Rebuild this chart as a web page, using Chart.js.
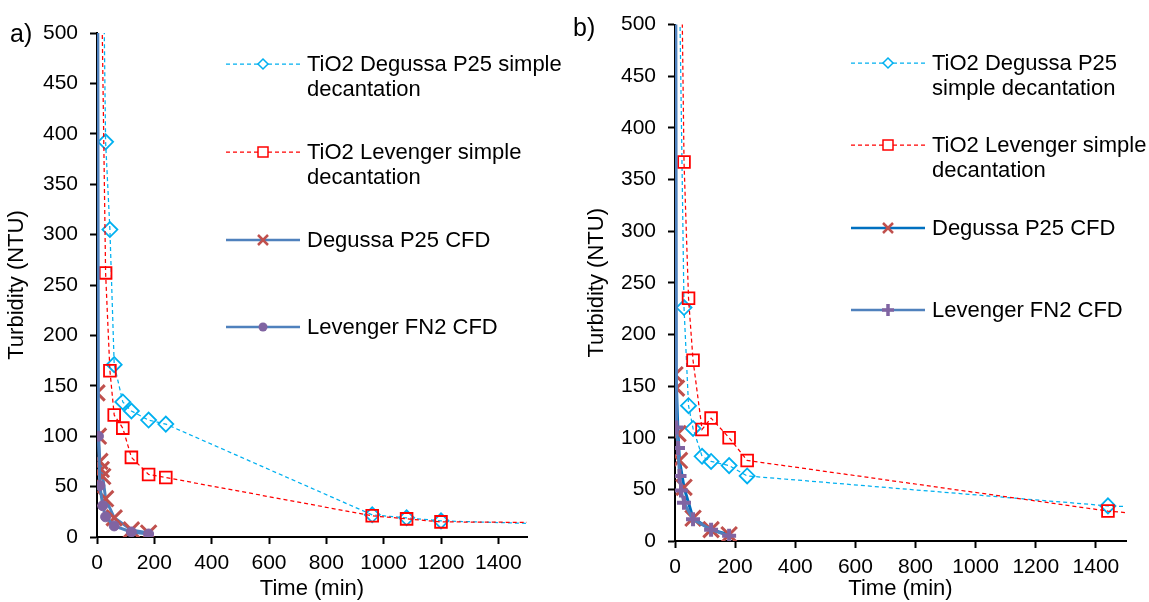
<!DOCTYPE html>
<html>
<head>
<meta charset="utf-8">
<title>Turbidity vs time</title>
<script src="https://cdn.jsdelivr.net/npm/chart.js@4.4.1/dist/chart.umd.min.js"></script>
<style>
  body { margin: 0; background: #fff; font-family: 'Liberation Sans', Arial, sans-serif; color: #000; }
  #wrap { position: relative; width: 1149px; height: 602px; overflow: hidden; }
  canvas { position: absolute; top: 0; }
  .panel { position: absolute; font-size: 25px; }
  .leg { position: absolute; font-size: 22px; line-height: 25px; white-space: nowrap; }
  .sample { position: absolute; }
</style>
</head>
<body>
<div id="wrap">
  <canvas id="chartA" width="560" height="602" style="left:0"></canvas>
  <canvas id="chartB" width="589" height="602" style="left:560px"></canvas>

  <div class="panel" style="left:10px;top:19px">a)</div>
  <div class="panel" style="left:573px;top:13px">b)</div>

  <!-- legend a -->
  <svg class="sample" style="left:226px;top:54px" width="74" height="20"><line x1="0" y1="10" x2="74" y2="10" stroke="#00b0f0" stroke-width="1.25" stroke-dasharray="4 3"/><polygon points="37,5 42,10 37,15 32,10" fill="#fff" stroke="#00b0f0" stroke-width="1.5"/></svg>
  <div class="leg" style="left:307px;top:51px">TiO2 Degussa P25 simple<br>decantation</div>
  <svg class="sample" style="left:226px;top:142px" width="74" height="20"><line x1="0" y1="10" x2="74" y2="10" stroke="#ff0000" stroke-width="1.25" stroke-dasharray="4 3"/><rect x="32" y="5" width="10" height="10" fill="#fff" stroke="#ff0000" stroke-width="1.5"/></svg>
  <div class="leg" style="left:307px;top:139px">TiO2 Levenger simple<br>decantation</div>
  <svg class="sample" style="left:226px;top:230px" width="74" height="20"><line x1="0" y1="10" x2="74" y2="10" stroke="#4f81bd" stroke-width="2.5"/><path d="M32,5 L42,15 M42,5 L32,15" stroke="#c0504d" stroke-width="2.5"/></svg>
  <div class="leg" style="left:307px;top:227px">Degussa P25 CFD</div>
  <svg class="sample" style="left:226px;top:317px" width="74" height="20"><line x1="0" y1="10" x2="74" y2="10" stroke="#4f81bd" stroke-width="2.5"/><circle cx="37" cy="10" r="4.5" fill="#8064a2"/></svg>
  <div class="leg" style="left:307px;top:314px">Levenger FN2 CFD</div>

  <!-- legend b -->
  <svg class="sample" style="left:851px;top:53px" width="74" height="20"><line x1="0" y1="10" x2="74" y2="10" stroke="#00b0f0" stroke-width="1.25" stroke-dasharray="4 3"/><polygon points="37,5 42,10 37,15 32,10" fill="#fff" stroke="#00b0f0" stroke-width="1.5"/></svg>
  <div class="leg" style="left:932px;top:50px">TiO2 Degussa P25<br>simple decantation</div>
  <svg class="sample" style="left:851px;top:135px" width="74" height="20"><line x1="0" y1="10" x2="74" y2="10" stroke="#ff0000" stroke-width="1.25" stroke-dasharray="4 3"/><rect x="32" y="5" width="10" height="10" fill="#fff" stroke="#ff0000" stroke-width="1.5"/></svg>
  <div class="leg" style="left:932px;top:132px">TiO2 Levenger simple<br>decantation</div>
  <svg class="sample" style="left:851px;top:218px" width="74" height="20"><line x1="0" y1="10" x2="74" y2="10" stroke="#0070c0" stroke-width="2.5"/><path d="M32,5 L42,15 M42,5 L32,15" stroke="#c0504d" stroke-width="2.5"/></svg>
  <div class="leg" style="left:932px;top:215px">Degussa P25 CFD</div>
  <svg class="sample" style="left:851px;top:300px" width="74" height="20"><line x1="0" y1="10" x2="74" y2="10" stroke="#4f81bd" stroke-width="2.5"/><path d="M37,4 L37,16 M31,10 L43,10" stroke="#8064a2" stroke-width="3.5"/></svg>
  <div class="leg" style="left:932px;top:297px">Levenger FN2 CFD</div>
</div>

<script>
// --- panel a) data ---
const timeDecantA = [0, 30, 45, 60, 90, 120, 180, 240, 960, 1080, 1200, 1800];
const degussaDecantA = [1100, 392, 305, 171, 134, 125, 116, 112, 22, 19, 16, 11];
const levengerDecantA = [880, 262, 165, 121, 108, 79, 62, 59, 21, 18, 15, 14];
const timeDegussaCfdA = [0, 5, 10, 15, 20, 30, 60, 120, 180];
const degussaCfdA = [143, 100, 75, 67, 60, 38, 19, 7, 4];
const timeLevengerCfdA = [0, 5, 10, 20, 30, 60, 120, 180];
const levengerCfdA = [1000, 100, 51, 31, 20, 11, 5, 3];

// --- panel b) data ---
const timeDecantB = [0, 30, 45, 60, 90, 120, 180, 240, 1440, 1800];
const degussaDecantB = [850, 226, 131, 109, 82, 77, 73, 63, 34, 30];
const levengerDecantB = [1070, 367, 235, 175, 108, 119, 100, 78, 29, 20];
const timeDegussaCfdB = [0, 5, 10, 15, 30, 60, 120, 180];
const degussaCfdB = [161, 148, 104, 78, 52, 22, 11, 6];
const timeLevengerCfdB = [0, 5, 10, 15, 20, 30, 60, 120, 180];
const levengerCfdB = [1000, 110, 90, 63, 49, 37, 21, 11, 5];

// axes
const xMax = 1500, xStep = 200;
const yMax = 500, yStep = 50;

Chart.defaults.font.family = "'Liberation Sans', Arial, sans-serif";
Chart.defaults.color = '#000';

function pts(xs, ys) {
    return xs.map((x, i) => ({ x: x, y: ys[i] }));
}

function decantSet(label, xs, ys, color, style, radius) {
    return {
        label: label,
        data: pts(xs, ys),
        showLine: true,
        borderColor: color,
        borderWidth: 1.25,
        borderDash: [4, 3],
        pointStyle: style,
        pointRadius: radius,
        pointBorderColor: color,
        pointBackgroundColor: 'rgba(0,0,0,0)',
        pointBorderWidth: 1.8
    };
}

function cfdSet(label, xs, ys, lineColor, markColor, style, radius, bw) {
    return {
        label: label,
        data: pts(xs, ys),
        showLine: true,
        borderColor: lineColor,
        borderWidth: 3,
        pointStyle: style,
        pointRadius: radius,
        pointBorderColor: markColor,
        pointBackgroundColor: markColor,
        pointBorderWidth: bw
    };
}

// plain numbers, no thousands separator
const plain = v => String(v);

function buildChart(id, datasets, box) {
    new Chart(document.getElementById(id), {
        type: 'scatter',
        data: { datasets: datasets },
        options: {
            responsive: false,
            animation: false,
            layout: { padding: { left: 0, right: box.padRight, top: box.padTop, bottom: 0 } },
            plugins: { legend: { display: false }, tooltip: { enabled: false } },
            scales: {
                x: {
                    type: 'linear', min: 0, max: xMax,
                    ticks: { stepSize: xStep, includeBounds: false, padding: 7, font: { size: 21 }, callback: plain },
                    grid: { drawOnChartArea: false, tickLength: 7, tickColor: '#000', tickWidth: 2 },
                    border: { color: '#000', width: 2 },
                    title: { display: true, text: 'Time (min)', font: { size: 22 }, padding: { top: 0, bottom: 0 } },
                    afterFit: function (s) { s.height = box.xHeight; }
                },
                y: {
                    type: 'linear', min: 0, max: yMax,
                    ticks: { stepSize: yStep, padding: 12, font: { size: 21 }, callback: plain },
                    grid: { drawOnChartArea: false, tickLength: 7, tickColor: '#000', tickWidth: 2 },
                    border: { color: '#000', width: 2 },
                    title: { display: true, text: 'Turbidity (NTU)', font: { size: 22 }, padding: { top: box.titlePad, bottom: 0 } },
                    afterFit: function (s) { s.width = box.yWidth; }
                }
            }
        }
    });
}

document.addEventListener('DOMContentLoaded', function () {
    // --- a) ---
    buildChart('chartA', [
        cfdSet('Levenger FN2 CFD', timeLevengerCfdA, levengerCfdA, '#4f81bd', '#8064a2', 'circle', 5, 1),
        cfdSet('Degussa P25 CFD', timeDegussaCfdA, degussaCfdA, '#4f81bd', '#c0504d', 'crossRot', 11, 3),
        decantSet('TiO2 Levenger simple decantation', timeDecantA, levengerDecantA, '#ff0000', 'rect', 8.3),
        decantSet('TiO2 Degussa P25 simple decantation', timeDecantA, degussaDecantA, '#00b0f0', 'rectRot', 7.5)
    ], { padRight: 33, padTop: 33, xHeight: 65, yWidth: 97, titlePad: 4 });

    // --- b) ---
    buildChart('chartB', [
        cfdSet('Levenger FN2 CFD', timeLevengerCfdB, levengerCfdB, '#4f81bd', '#8064a2', 'cross', 7, 4),
        cfdSet('Degussa P25 CFD', timeDegussaCfdB, degussaCfdB, '#0070c0', '#c0504d', 'crossRot', 11, 3),
        decantSet('TiO2 Levenger simple decantation', timeDecantB, levengerDecantB, '#ff0000', 'rect', 8.3),
        decantSet('TiO2 Degussa P25 simple decantation', timeDecantB, degussaDecantB, '#00b0f0', 'rectRot', 7.5)
    ], { padRight: 23, padTop: 20, xHeight: 61, yWidth: 115, titlePad: 24 });
});
</script>
</body>
</html>
